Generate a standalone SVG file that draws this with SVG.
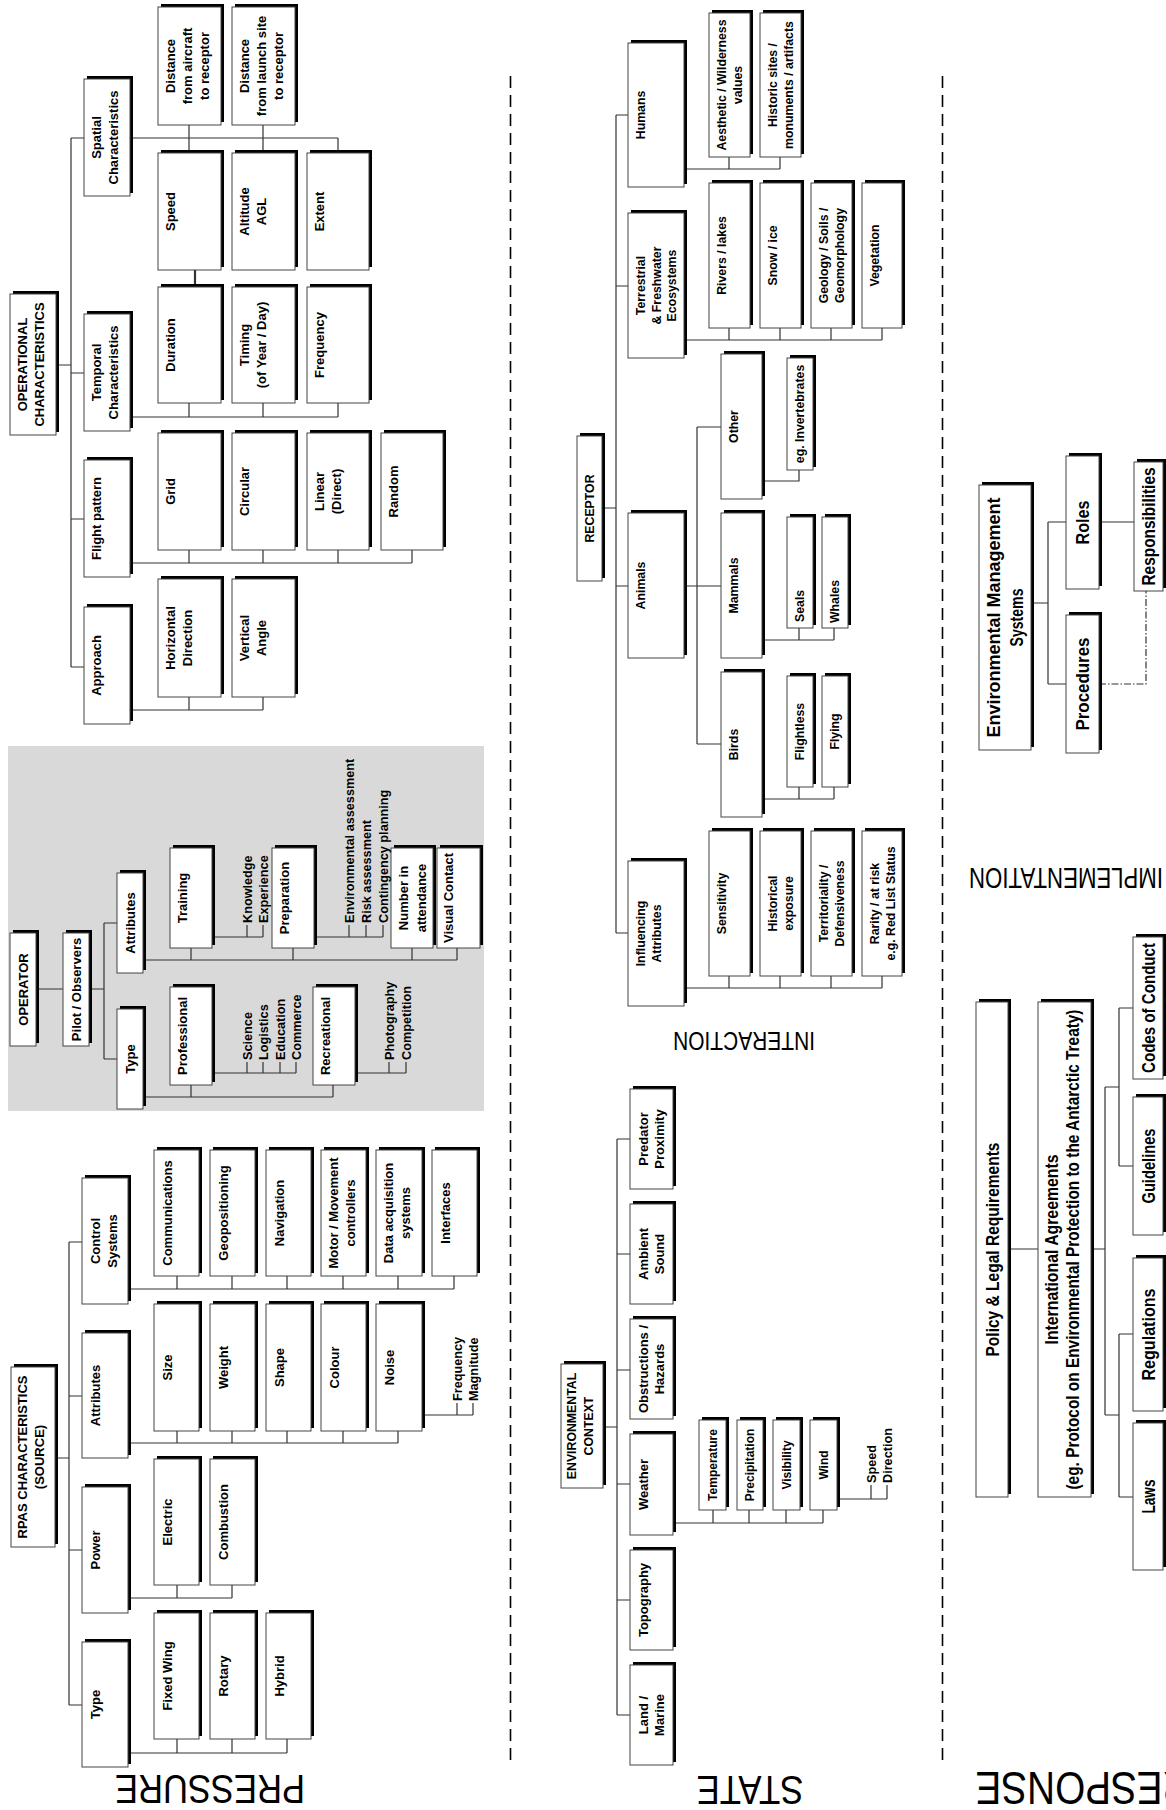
<svg xmlns="http://www.w3.org/2000/svg" width="1166" height="1810" viewBox="0 0 1166 1810">
<style>
.sh{fill:#000}
.bx{fill:#fff;stroke:#444;stroke-width:1}
.t{font-family:"Liberation Sans",Arial,sans-serif;font-weight:bold;font-size:13px;fill:#000;text-anchor:middle}
.s{font-size:12.3px}
.xs{font-size:12px}
.lf{font-family:"Liberation Sans",Arial,sans-serif;font-weight:bold;font-size:12.7px;fill:#000;text-anchor:start}
.n{font-family:"Liberation Sans Narrow","Liberation Sans",Arial,sans-serif;font-weight:bold;font-size:18.5px;fill:#000;text-anchor:middle}
.lbl{font-family:"Liberation Sans",Arial,sans-serif;fill:#000;text-anchor:middle}
.c{fill:none;stroke:#333;stroke-width:1.2}
.dv{fill:none;stroke:#000;stroke-width:1.6;stroke-dasharray:12 7}
</style>
<rect x="0" y="0" width="1166" height="1810" fill="#fff"/>
<rect id="operator-panel" x="8" y="746" width="476" height="365" fill="#d9d9d9"/>
<g id="dividers">
<path class="dv" d="M510.5 76V1766M942.5 76V1766"/>
</g>
<g id="connectors">
<path class="c" d="M56 365H71M71 138V667M71 138H84M71 373H84M71 519H84M71 667H84M130 138H338M189 125V153M263 125V153M338 138V153M130 417H338M189 403V417M263 403V417M338 403V417M130 563H412M189 550V563M263 550V563M338 550V563M412 550V563M130 710H263M189 697V710M263 697V710"/>
<path class="c" style="stroke-width:2.2" d="M195 270V287"/>
<path class="c" d="M36 989H63M89 989H104M104 923V1059M104 923H117M104 1059H117M143 960H457M191 948V960M293 948V960M412 948V960M457 948V960M212 937H263M247 925V937M263 925V937M314 937H383M349 925V937M366 925V937M383 925V937M143 1097H333M191 1085V1097M333 1085V1097M212 1073H296M247 1062V1073M263 1062V1073M280 1062V1073M296 1062V1073M355 1073H406M389 1062V1073M406 1062V1073"/>
<path class="c" d="M55 1458H69M69 1242V1705M69 1242H82M69 1396H82M69 1550H82M69 1705H82M128 1289H454M177 1276V1289M232 1276V1289M287 1276V1289M343 1276V1289M398 1276V1289M454 1276V1289M128 1443H398M177 1431V1443M232 1431V1443M287 1431V1443M343 1431V1443M398 1431V1443M422 1415H473M457 1403V1415M473 1403V1415M128 1598H232M177 1585V1598M232 1585V1598M128 1753H287M177 1739V1753M232 1739V1753M287 1739V1753"/>
<path class="c" d="M602 508H616M616 115V933M616 115H628M616 286H628M616 586H628M616 933H628M684 169H780M729 157V169M780 157V169M684 340H882M729 328V340M780 328V340M831 328V340M882 328V340M684 586H721M697 427V744M697 427H721M697 744H721M762 481H799V470M762 640H834M799 628V640M834 628V640M762 799H834M799 787V799M834 787V799M684 988H882M729 976V988M780 976V988M831 976V988M882 976V988"/>
<path class="c" d="M603 1427H617M617 1139V1715M617 1139H630M617 1254H630M617 1370H630M617 1484H630M617 1600H630M617 1715H630M673 1523H823M713 1510V1523M749 1510V1523M786 1510V1523M823 1510V1523M837 1499H887M871 1485V1499M887 1485V1499"/>
<path class="c" d="M1031 603H1048M1048 522V684M1048 522H1066M1048 684H1066M1099 522H1134"/>
<path class="c" style="stroke-dasharray:7 2 1.5 2" d="M1099 684H1146V591"/>
<path class="c" d="M1008 1249H1038M1091 1249H1105M1105 1087V1415M1105 1087H1119M1105 1415H1119M1119 1008V1166M1119 1008H1133M1119 1166H1133M1119 1334V1497M1119 1334H1133M1119 1497H1133"/>
</g>

<!-- OPERATIONAL CHARACTERISTICS -->
<g id="op-char"><rect class="sh" x="13" y="291" width="46" height="141"/><rect class="bx" x="10" y="294" width="46" height="141"/><text class="t" transform="translate(27,364.5) rotate(-90)"><tspan x="0" y="0">OPERATIONAL</tspan><tspan x="0" y="17">CHARACTERISTICS</tspan></text></g>
<g id="spatial"><rect class="sh" x="87" y="76" width="46" height="117"/><rect class="bx" x="84" y="79" width="46" height="117"/><text class="t" transform="translate(101,137.5) rotate(-90)"><tspan x="0" y="0">Spatial</tspan><tspan x="0" y="17">Characteristics</tspan></text></g>
<g id="temporal"><rect class="sh" x="87" y="311" width="46" height="117"/><rect class="bx" x="84" y="314" width="46" height="117"/><text class="t" transform="translate(101,372.5) rotate(-90)"><tspan x="0" y="0">Temporal</tspan><tspan x="0" y="17">Characteristics</tspan></text></g>
<g id="flight"><rect class="sh" x="87" y="457" width="46" height="117"/><rect class="bx" x="84" y="460" width="46" height="117"/><text class="t" transform="translate(101,518.5) rotate(-90)"><tspan x="0" y="0">Flight pattern</tspan></text></g>
<g id="approach"><rect class="sh" x="87" y="604" width="46" height="117"/><rect class="bx" x="84" y="607" width="46" height="117"/><text class="t" transform="translate(101,665.5) rotate(-90)"><tspan x="0" y="0">Approach</tspan></text></g>
<g id="dist-aircraft"><rect class="sh" x="161" y="4" width="63" height="118"/><rect class="bx" x="158" y="7" width="63" height="118"/><text class="t" transform="translate(175,66) rotate(-90)"><tspan x="0" y="0">Distance</tspan><tspan x="0" y="17">from aircraft</tspan><tspan x="0" y="34">to receptor</tspan></text></g>
<g id="dist-launch"><rect class="sh" x="235" y="4" width="63" height="118"/><rect class="bx" x="232" y="7" width="63" height="118"/><text class="t" transform="translate(249,66) rotate(-90)"><tspan x="0" y="0">Distance</tspan><tspan x="0" y="17">from launch site</tspan><tspan x="0" y="34">to receptor</tspan></text></g>
<g id="speed"><rect class="sh" x="161" y="150" width="63" height="117"/><rect class="bx" x="158" y="153" width="63" height="117"/><text class="t" transform="translate(175,211.5) rotate(-90)"><tspan x="0" y="0">Speed</tspan></text></g>
<g id="altitude"><rect class="sh" x="235" y="150" width="63" height="117"/><rect class="bx" x="232" y="153" width="63" height="117"/><text class="t" transform="translate(249,211.5) rotate(-90)"><tspan x="0" y="0">Altitude</tspan><tspan x="0" y="17">AGL</tspan></text></g>
<g id="extent"><rect class="sh" x="310" y="150" width="62" height="117"/><rect class="bx" x="307" y="153" width="62" height="117"/><text class="t" transform="translate(324,211.5) rotate(-90)"><tspan x="0" y="0">Extent</tspan></text></g>
<g id="duration"><rect class="sh" x="161" y="284" width="63" height="116"/><rect class="bx" x="158" y="287" width="63" height="116"/><text class="t" transform="translate(175,345) rotate(-90)"><tspan x="0" y="0">Duration</tspan></text></g>
<g id="timing"><rect class="sh" x="235" y="284" width="63" height="116"/><rect class="bx" x="232" y="287" width="63" height="116"/><text class="t" transform="translate(249,345) rotate(-90)"><tspan x="0" y="0">Timing</tspan><tspan x="0" y="17">(of Year / Day)</tspan></text></g>
<g id="frequency"><rect class="sh" x="310" y="284" width="62" height="116"/><rect class="bx" x="307" y="287" width="62" height="116"/><text class="t" transform="translate(324,345) rotate(-90)"><tspan x="0" y="0">Frequency</tspan></text></g>
<g id="grid"><rect class="sh" x="161" y="430" width="63" height="117"/><rect class="bx" x="158" y="433" width="63" height="117"/><text class="t" transform="translate(175,491.5) rotate(-90)"><tspan x="0" y="0">Grid</tspan></text></g>
<g id="circular"><rect class="sh" x="235" y="430" width="63" height="117"/><rect class="bx" x="232" y="433" width="63" height="117"/><text class="t" transform="translate(249,491.5) rotate(-90)"><tspan x="0" y="0">Circular</tspan></text></g>
<g id="linear"><rect class="sh" x="310" y="430" width="62" height="117"/><rect class="bx" x="307" y="433" width="62" height="117"/><text class="t" transform="translate(324,491.5) rotate(-90)"><tspan x="0" y="0">Linear</tspan><tspan x="0" y="17">(Direct)</tspan></text></g>
<g id="random"><rect class="sh" x="384" y="430" width="62" height="117"/><rect class="bx" x="381" y="433" width="62" height="117"/><text class="t" transform="translate(398,491.5) rotate(-90)"><tspan x="0" y="0">Random</tspan></text></g>
<g id="horizontal"><rect class="sh" x="161" y="576" width="63" height="118"/><rect class="bx" x="158" y="579" width="63" height="118"/><text class="t" transform="translate(175,638) rotate(-90)"><tspan x="0" y="0">Horizontal</tspan><tspan x="0" y="17">Direction</tspan></text></g>
<g id="vertical"><rect class="sh" x="235" y="576" width="63" height="118"/><rect class="bx" x="232" y="579" width="63" height="118"/><text class="t" transform="translate(249,638) rotate(-90)"><tspan x="0" y="0">Vertical</tspan><tspan x="0" y="17">Angle</tspan></text></g>

<!-- OPERATOR -->
<g id="operator"><rect class="sh" x="13" y="930" width="26" height="113"/><rect class="bx" x="10" y="933" width="26" height="113"/><text class="t" transform="translate(27.5,989.5) rotate(-90)"><tspan x="0" y="0">OPERATOR</tspan></text></g>
<g id="pilot"><rect class="sh" x="66" y="930" width="26" height="113"/><rect class="bx" x="63" y="933" width="26" height="113"/><text class="t" transform="translate(80.5,989.5) rotate(-90)"><tspan x="0" y="0">Pilot / Observers</tspan></text></g>
<g id="op-attributes"><rect class="sh" x="120" y="870" width="26" height="100"/><rect class="bx" x="117" y="873" width="26" height="100"/><text class="t" transform="translate(134.5,923) rotate(-90)"><tspan x="0" y="0">Attributes</tspan></text></g>
<g id="op-type"><rect class="sh" x="120" y="1006" width="26" height="100"/><rect class="bx" x="117" y="1009" width="26" height="100"/><text class="t" transform="translate(134.5,1059) rotate(-90)"><tspan x="0" y="0">Type</tspan></text></g>
<g id="training"><rect class="sh" x="173" y="845" width="42" height="100"/><rect class="bx" x="170" y="848" width="42" height="100"/><text class="t" transform="translate(187,898) rotate(-90)"><tspan x="0" y="0">Training</tspan></text></g>
<g id="preparation"><rect class="sh" x="275" y="845" width="42" height="100"/><rect class="bx" x="272" y="848" width="42" height="100"/><text class="t" transform="translate(289,898) rotate(-90)"><tspan x="0" y="0">Preparation</tspan></text></g>
<g id="number"><rect class="sh" x="394" y="845" width="42" height="100"/><rect class="bx" x="391" y="848" width="42" height="100"/><text class="t" transform="translate(408,898) rotate(-90)"><tspan x="0" y="0">Number in</tspan><tspan x="0" y="17.5">attendance</tspan></text></g>
<g id="visual"><rect class="sh" x="440" y="845" width="43" height="100"/><rect class="bx" x="437" y="848" width="43" height="100"/><text class="t" transform="translate(453,898) rotate(-90)"><tspan x="0" y="0">Visual Contact</tspan></text></g>
<g id="professional"><rect class="sh" x="173" y="984" width="42" height="98"/><rect class="bx" x="170" y="987" width="42" height="98"/><text class="t" transform="translate(187,1036) rotate(-90)"><tspan x="0" y="0">Professional</tspan></text></g>
<g id="recreational"><rect class="sh" x="316" y="984" width="42" height="98"/><rect class="bx" x="313" y="987" width="42" height="98"/><text class="t" transform="translate(330,1036) rotate(-90)"><tspan x="0" y="0">Recreational</tspan></text></g>
<g id="operator-leaves">
<text class="lf" transform="translate(251.5,923) rotate(-90)">Knowledge</text>
<text class="lf" transform="translate(267.5,923) rotate(-90)">Experience</text>
<text class="lf" transform="translate(353.5,923) rotate(-90)">Environmental assessment</text>
<text class="lf" transform="translate(370.5,923) rotate(-90)">Risk assessment</text>
<text class="lf" transform="translate(387.5,923) rotate(-90)">Contingency planning</text>
<text class="lf" transform="translate(251.5,1060) rotate(-90)">Science</text>
<text class="lf" transform="translate(267.5,1060) rotate(-90)">Logistics</text>
<text class="lf" transform="translate(284.5,1060) rotate(-90)">Education</text>
<text class="lf" transform="translate(300.5,1060) rotate(-90)">Commerce</text>
<text class="lf" transform="translate(393.5,1060) rotate(-90)">Photography</text>
<text class="lf" transform="translate(410.5,1060) rotate(-90)">Competition</text>
</g>

<!-- RPAS -->
<g id="rpas"><rect class="sh" x="14" y="1364" width="44" height="180"/><rect class="bx" x="11" y="1367" width="44" height="180"/><text class="t" transform="translate(27,1457) rotate(-90)"><tspan x="0" y="0">RPAS CHARACTERISTICS</tspan><tspan x="0" y="16.5">(SOURCE)</tspan></text></g>
<g id="control"><rect class="sh" x="85" y="1175" width="46" height="126"/><rect class="bx" x="82" y="1178" width="46" height="126"/><text class="t" transform="translate(100,1241) rotate(-90)"><tspan x="0" y="0">Control</tspan><tspan x="0" y="17">Systems</tspan></text></g>
<g id="rp-attributes"><rect class="sh" x="85" y="1330" width="46" height="125"/><rect class="bx" x="82" y="1333" width="46" height="125"/><text class="t" transform="translate(100,1395.5) rotate(-90)"><tspan x="0" y="0">Attributes</tspan></text></g>
<g id="power"><rect class="sh" x="85" y="1484" width="46" height="126"/><rect class="bx" x="82" y="1487" width="46" height="126"/><text class="t" transform="translate(100,1550) rotate(-90)"><tspan x="0" y="0">Power</tspan></text></g>
<g id="rp-type"><rect class="sh" x="85" y="1639" width="46" height="125"/><rect class="bx" x="82" y="1642" width="46" height="125"/><text class="t" transform="translate(100,1704.5) rotate(-90)"><tspan x="0" y="0">Type</tspan></text></g>
<g id="communications"><rect class="sh" x="157" y="1147" width="45" height="126"/><rect class="bx" x="154" y="1150" width="45" height="126"/><text class="t" transform="translate(171.5,1213) rotate(-90)"><tspan x="0" y="0">Communications</tspan></text></g>
<g id="geopositioning"><rect class="sh" x="213" y="1147" width="45" height="126"/><rect class="bx" x="210" y="1150" width="45" height="126"/><text class="t" transform="translate(227.5,1213) rotate(-90)"><tspan x="0" y="0">Geopositioning</tspan></text></g>
<g id="navigation"><rect class="sh" x="269" y="1147" width="45" height="126"/><rect class="bx" x="266" y="1150" width="45" height="126"/><text class="t" transform="translate(283.5,1213) rotate(-90)"><tspan x="0" y="0">Navigation</tspan></text></g>
<g id="motor"><rect class="sh" x="324" y="1147" width="45" height="126"/><rect class="bx" x="321" y="1150" width="45" height="126"/><text class="t" transform="translate(338,1213) rotate(-90)"><tspan x="0" y="0">Motor / Movement</tspan><tspan x="0" y="17">controllers</tspan></text></g>
<g id="data"><rect class="sh" x="379" y="1147" width="46" height="126"/><rect class="bx" x="376" y="1150" width="46" height="126"/><text class="t" transform="translate(393,1213) rotate(-90)"><tspan x="0" y="0">Data acquisition</tspan><tspan x="0" y="17">systems</tspan></text></g>
<g id="interfaces"><rect class="sh" x="435" y="1147" width="45" height="126"/><rect class="bx" x="432" y="1150" width="45" height="126"/><text class="t" transform="translate(449.5,1213) rotate(-90)"><tspan x="0" y="0">Interfaces</tspan></text></g>
<g id="size"><rect class="sh" x="157" y="1301" width="45" height="127"/><rect class="bx" x="154" y="1304" width="45" height="127"/><text class="t" transform="translate(171.5,1367.5) rotate(-90)"><tspan x="0" y="0">Size</tspan></text></g>
<g id="weight"><rect class="sh" x="213" y="1301" width="45" height="127"/><rect class="bx" x="210" y="1304" width="45" height="127"/><text class="t" transform="translate(227.5,1367.5) rotate(-90)"><tspan x="0" y="0">Weight</tspan></text></g>
<g id="shape"><rect class="sh" x="269" y="1301" width="45" height="127"/><rect class="bx" x="266" y="1304" width="45" height="127"/><text class="t" transform="translate(283.5,1367.5) rotate(-90)"><tspan x="0" y="0">Shape</tspan></text></g>
<g id="colour"><rect class="sh" x="324" y="1301" width="45" height="127"/><rect class="bx" x="321" y="1304" width="45" height="127"/><text class="t" transform="translate(338.5,1367.5) rotate(-90)"><tspan x="0" y="0">Colour</tspan></text></g>
<g id="noise"><rect class="sh" x="379" y="1301" width="46" height="127"/><rect class="bx" x="376" y="1304" width="46" height="127"/><text class="t" transform="translate(393.5,1367.5) rotate(-90)"><tspan x="0" y="0">Noise</tspan></text></g>
<g id="noise-leaves">
<text class="lf" transform="translate(461.5,1401) rotate(-90)">Frequency</text>
<text class="lf" transform="translate(477.5,1401) rotate(-90)">Magnitude</text>
</g>
<g id="electric"><rect class="sh" x="157" y="1456" width="45" height="126"/><rect class="bx" x="154" y="1459" width="45" height="126"/><text class="t" transform="translate(171.5,1522) rotate(-90)"><tspan x="0" y="0">Electric</tspan></text></g>
<g id="combustion"><rect class="sh" x="213" y="1456" width="45" height="126"/><rect class="bx" x="210" y="1459" width="45" height="126"/><text class="t" transform="translate(227.5,1522) rotate(-90)"><tspan x="0" y="0">Combustion</tspan></text></g>
<g id="fixed-wing"><rect class="sh" x="157" y="1610" width="45" height="126"/><rect class="bx" x="154" y="1613" width="45" height="126"/><text class="t" transform="translate(171.5,1676) rotate(-90)"><tspan x="0" y="0">Fixed Wing</tspan></text></g>
<g id="rotary"><rect class="sh" x="213" y="1610" width="45" height="126"/><rect class="bx" x="210" y="1613" width="45" height="126"/><text class="t" transform="translate(227.5,1676) rotate(-90)"><tspan x="0" y="0">Rotary</tspan></text></g>
<g id="hybrid"><rect class="sh" x="269" y="1610" width="45" height="126"/><rect class="bx" x="266" y="1613" width="45" height="126"/><text class="t" transform="translate(283.5,1676) rotate(-90)"><tspan x="0" y="0">Hybrid</tspan></text></g>

<!-- RECEPTOR -->
<g id="receptor"><rect class="sh" x="580" y="433" width="25" height="145"/><rect class="bx" x="577" y="436" width="25" height="145"/><text class="t s" transform="translate(594,508.5) rotate(-90)"><tspan x="0" y="0">RECEPTOR</tspan></text></g>
<g id="humans"><rect class="sh" x="631" y="40" width="56" height="144"/><rect class="bx" x="628" y="43" width="56" height="144"/><text class="t s" transform="translate(645,115) rotate(-90)"><tspan x="0" y="0">Humans</tspan></text></g>
<g id="terrestrial"><rect class="sh" x="631" y="210" width="56" height="145"/><rect class="bx" x="628" y="213" width="56" height="145"/><text class="t s" transform="translate(645,285.5) rotate(-90)"><tspan x="0" y="0">Terrestrial</tspan><tspan x="0" y="15.5">&amp; Freshwater</tspan><tspan x="0" y="31">Ecosystems</tspan></text></g>
<g id="animals"><rect class="sh" x="631" y="510" width="56" height="145"/><rect class="bx" x="628" y="513" width="56" height="145"/><text class="t s" transform="translate(645,585.5) rotate(-90)"><tspan x="0" y="0">Animals</tspan></text></g>
<g id="influencing"><rect class="sh" x="631" y="858" width="56" height="145"/><rect class="bx" x="628" y="861" width="56" height="145"/><text class="t s" transform="translate(645,933.5) rotate(-90)"><tspan x="0" y="0">Influencing</tspan><tspan x="0" y="15.5">Attributes</tspan></text></g>
<g id="aesthetic"><rect class="sh" x="712" y="10" width="41" height="144"/><rect class="bx" x="709" y="13" width="41" height="144"/><text class="t s" transform="translate(726,85) rotate(-90)"><tspan x="0" y="0">Aesthetic / Wilderness</tspan><tspan x="0" y="15.5">values</tspan></text></g>
<g id="historic"><rect class="sh" x="763" y="10" width="41" height="144"/><rect class="bx" x="760" y="13" width="41" height="144"/><text class="t s" transform="translate(777,85) rotate(-90)"><tspan x="0" y="0">Historic sites /</tspan><tspan x="0" y="15.5">monuments / artifacts</tspan></text></g>
<g id="rivers"><rect class="sh" x="712" y="180" width="41" height="145"/><rect class="bx" x="709" y="183" width="41" height="145"/><text class="t s" transform="translate(726,255.5) rotate(-90)"><tspan x="0" y="0">Rivers / lakes</tspan></text></g>
<g id="snow"><rect class="sh" x="763" y="180" width="41" height="145"/><rect class="bx" x="760" y="183" width="41" height="145"/><text class="t s" transform="translate(777,255.5) rotate(-90)"><tspan x="0" y="0">Snow / ice</tspan></text></g>
<g id="geology"><rect class="sh" x="814" y="180" width="41" height="145"/><rect class="bx" x="811" y="183" width="41" height="145"/><text class="t s" transform="translate(828,255.5) rotate(-90)"><tspan x="0" y="0">Geology / Soils /</tspan><tspan x="0" y="15.5">Geomorphology</tspan></text></g>
<g id="vegetation"><rect class="sh" x="865" y="180" width="40" height="145"/><rect class="bx" x="862" y="183" width="40" height="145"/><text class="t s" transform="translate(879,255.5) rotate(-90)"><tspan x="0" y="0">Vegetation</tspan></text></g>
<g id="other"><rect class="sh" x="724" y="351" width="41" height="145"/><rect class="bx" x="721" y="354" width="41" height="145"/><text class="t s" transform="translate(738,426.5) rotate(-90)"><tspan x="0" y="0">Other</tspan></text></g>
<g id="invertebrates"><rect class="sh" x="790" y="355" width="26" height="112"/><rect class="bx" x="787" y="358" width="26" height="112"/><text class="t s" transform="translate(804,414) rotate(-90)"><tspan x="0" y="0">eg. Invertebrates</tspan></text></g>
<g id="mammals"><rect class="sh" x="724" y="510" width="41" height="145"/><rect class="bx" x="721" y="513" width="41" height="145"/><text class="t s" transform="translate(738,585.5) rotate(-90)"><tspan x="0" y="0">Mammals</tspan></text></g>
<g id="seals"><rect class="sh" x="790" y="514" width="26" height="111"/><rect class="bx" x="787" y="517" width="26" height="111"/><text class="t s" style="text-anchor:start" transform="translate(804,622) rotate(-90)"><tspan x="0" y="0">Seals</tspan></text></g>
<g id="whales"><rect class="sh" x="825" y="514" width="26" height="111"/><rect class="bx" x="822" y="517" width="26" height="111"/><text class="t s" style="text-anchor:start" transform="translate(839,623) rotate(-90)"><tspan x="0" y="0">Whales</tspan></text></g>
<g id="birds"><rect class="sh" x="724" y="669" width="41" height="145"/><rect class="bx" x="721" y="672" width="41" height="145"/><text class="t s" transform="translate(738,744.5) rotate(-90)"><tspan x="0" y="0">Birds</tspan></text></g>
<g id="flightless"><rect class="sh" x="790" y="673" width="26" height="111"/><rect class="bx" x="787" y="676" width="26" height="111"/><text class="t s" transform="translate(804,731.5) rotate(-90)"><tspan x="0" y="0">Flightless</tspan></text></g>
<g id="flying"><rect class="sh" x="825" y="673" width="26" height="111"/><rect class="bx" x="822" y="676" width="26" height="111"/><text class="t s" transform="translate(839,731.5) rotate(-90)"><tspan x="0" y="0">Flying</tspan></text></g>
<g id="sensitivity"><rect class="sh" x="712" y="828" width="41" height="145"/><rect class="bx" x="709" y="831" width="41" height="145"/><text class="t s" transform="translate(726,903.5) rotate(-90)"><tspan x="0" y="0">Sensitivity</tspan></text></g>
<g id="historical"><rect class="sh" x="763" y="828" width="41" height="145"/><rect class="bx" x="760" y="831" width="41" height="145"/><text class="t s" transform="translate(777,903.5) rotate(-90)"><tspan x="0" y="0">Historical</tspan><tspan x="0" y="15.5">exposure</tspan></text></g>
<g id="territoriality"><rect class="sh" x="814" y="828" width="41" height="145"/><rect class="bx" x="811" y="831" width="41" height="145"/><text class="t s" transform="translate(828,903.5) rotate(-90)"><tspan x="0" y="0">Territoriality /</tspan><tspan x="0" y="15.5">Defensiveness</tspan></text></g>
<g id="rarity"><rect class="sh" x="865" y="828" width="40" height="145"/><rect class="bx" x="862" y="831" width="40" height="145"/><text class="t s" transform="translate(879,903.5) rotate(-90)"><tspan x="0" y="0">Rarity / at risk</tspan><tspan x="0" y="15.5">e.g. Red List Status</tspan></text></g>

<!-- ENVIRONMENTAL CONTEXT -->
<g id="env-context"><rect class="sh" x="564" y="1361" width="42" height="124"/><rect class="bx" x="561" y="1364" width="42" height="124"/><text class="t s" transform="translate(576,1426) rotate(-90)"><tspan x="0" y="0">ENVIRONMENTAL</tspan><tspan x="0" y="17">CONTEXT</tspan></text></g>
<g id="predator"><rect class="sh" x="633" y="1086" width="43" height="100"/><rect class="bx" x="630" y="1089" width="43" height="100"/><text class="t" transform="translate(648,1139) rotate(-90)"><tspan x="0" y="0">Predator</tspan><tspan x="0" y="16">Proximity</tspan></text></g>
<g id="ambient"><rect class="sh" x="633" y="1201" width="43" height="100"/><rect class="bx" x="630" y="1204" width="43" height="100"/><text class="t" transform="translate(648,1254) rotate(-90)"><tspan x="0" y="0">Ambient</tspan><tspan x="0" y="16">Sound</tspan></text></g>
<g id="obstructions"><rect class="sh" x="633" y="1316" width="43" height="100"/><rect class="bx" x="630" y="1319" width="43" height="100"/><text class="t" transform="translate(648,1369) rotate(-90)"><tspan x="0" y="0">Obstructions /</tspan><tspan x="0" y="16">Hazards</tspan></text></g>
<g id="weather"><rect class="sh" x="633" y="1431" width="43" height="101"/><rect class="bx" x="630" y="1434" width="43" height="101"/><text class="t" transform="translate(648,1484.5) rotate(-90)"><tspan x="0" y="0">Weather</tspan></text></g>
<g id="topography"><rect class="sh" x="633" y="1547" width="43" height="100"/><rect class="bx" x="630" y="1550" width="43" height="100"/><text class="t" transform="translate(648,1600) rotate(-90)"><tspan x="0" y="0">Topography</tspan></text></g>
<g id="land-marine"><rect class="sh" x="633" y="1662" width="43" height="100"/><rect class="bx" x="630" y="1665" width="43" height="100"/><text class="t" transform="translate(648,1715) rotate(-90)"><tspan x="0" y="0">Land /</tspan><tspan x="0" y="16">Marine</tspan></text></g>
<g id="temperature"><rect class="sh" x="702" y="1417" width="27" height="90"/><rect class="bx" x="699" y="1420" width="27" height="90"/><text class="t xs" transform="translate(716.5,1465) rotate(-90)"><tspan x="0" y="0">Temperature</tspan></text></g>
<g id="precipitation"><rect class="sh" x="740" y="1417" width="26" height="90"/><rect class="bx" x="737" y="1420" width="26" height="90"/><text class="t xs" transform="translate(754,1465) rotate(-90)"><tspan x="0" y="0">Precipitation</tspan></text></g>
<g id="visibility"><rect class="sh" x="776" y="1417" width="27" height="90"/><rect class="bx" x="773" y="1420" width="27" height="90"/><text class="t xs" transform="translate(791,1465) rotate(-90)"><tspan x="0" y="0">Visibility</tspan></text></g>
<g id="wind"><rect class="sh" x="813" y="1417" width="27" height="90"/><rect class="bx" x="810" y="1420" width="27" height="90"/><text class="t xs" transform="translate(828,1465) rotate(-90)"><tspan x="0" y="0">Wind</tspan></text></g>
<g id="wind-leaves">
<text class="lf" transform="translate(875.5,1483) rotate(-90)">Speed</text>
<text class="lf" transform="translate(891.5,1483) rotate(-90)">Direction</text>
</g>

<!-- IMPLEMENTATION -->
<g id="ems"><rect class="sh" x="982" y="482" width="52" height="265"/><rect class="bx" x="979" y="485" width="52" height="265"/><text class="n" transform="translate(999.5,617.5) rotate(-90)" textLength="240" lengthAdjust="spacingAndGlyphs">Environmental Management</text><text class="n" transform="translate(1022.5,617.5) rotate(-90)" textLength="58" lengthAdjust="spacingAndGlyphs">Systems</text></g>
<g id="roles"><rect class="sh" x="1069" y="453" width="33" height="133"/><rect class="bx" x="1066" y="456" width="33" height="133"/><text class="n" transform="translate(1089,522.5) rotate(-90)" textLength="44" lengthAdjust="spacingAndGlyphs">Roles</text></g>
<g id="procedures"><rect class="sh" x="1069" y="612" width="33" height="138"/><rect class="bx" x="1066" y="615" width="33" height="138"/><text class="n" transform="translate(1089,684) rotate(-90)" textLength="93" lengthAdjust="spacingAndGlyphs">Procedures</text></g>
<g id="responsibilities"><rect class="sh" x="1137" y="459" width="29" height="129"/><rect class="bx" x="1134" y="462" width="29" height="129"/><text class="n" transform="translate(1155,526.5) rotate(-90)" textLength="118" lengthAdjust="spacingAndGlyphs">Responsibilities</text></g>

<!-- RESPONSE -->
<g id="policy"><rect class="sh" x="979" y="999" width="32" height="495"/><rect class="bx" x="976" y="1002" width="32" height="495"/><text class="n" transform="translate(998.5,1249.5) rotate(-90)" textLength="214" lengthAdjust="spacingAndGlyphs">Policy &amp; Legal Requirements</text></g>
<g id="international"><rect class="sh" x="1041" y="999" width="53" height="495"/><rect class="bx" x="1038" y="1002" width="53" height="495"/><text class="n" transform="translate(1057.5,1249.5) rotate(-90)" textLength="190" lengthAdjust="spacingAndGlyphs">International Agreements</text><text class="n" transform="translate(1078.5,1249.5) rotate(-90)" textLength="480" lengthAdjust="spacingAndGlyphs">(eg. Protocol on Environmental Protection to the Antarctic Treaty)</text></g>
<g id="codes"><rect class="sh" x="1136" y="934" width="30" height="142"/><rect class="bx" x="1133" y="937" width="30" height="142"/><text class="n" transform="translate(1154.5,1008) rotate(-90)" textLength="130" lengthAdjust="spacingAndGlyphs">Codes of Conduct</text></g>
<g id="guidelines"><rect class="sh" x="1136" y="1094" width="30" height="138"/><rect class="bx" x="1133" y="1097" width="30" height="138"/><text class="n" transform="translate(1154.5,1166) rotate(-90)" textLength="75" lengthAdjust="spacingAndGlyphs">Guidelines</text></g>
<g id="regulations"><rect class="sh" x="1136" y="1255" width="30" height="153"/><rect class="bx" x="1133" y="1258" width="30" height="153"/><text class="n" transform="translate(1154.5,1334.5) rotate(-90)" textLength="92" lengthAdjust="spacingAndGlyphs">Regulations</text></g>
<g id="laws"><rect class="sh" x="1136" y="1420" width="30" height="147"/><rect class="bx" x="1133" y="1423" width="30" height="147"/><text class="n" transform="translate(1154.5,1496.5) rotate(-90)" textLength="34" lengthAdjust="spacingAndGlyphs">Laws</text></g>

<!-- region labels (upside down) -->
<g id="labels">
<text class="lbl" font-size="41" transform="translate(210,1775) rotate(180)" textLength="190" lengthAdjust="spacingAndGlyphs">PRESSURE</text>
<text class="lbl" font-size="40" transform="translate(750,1776) rotate(180)" textLength="107" lengthAdjust="spacingAndGlyphs">STATE</text>
<text class="lbl" font-size="46" transform="translate(1083,1772) rotate(180)" textLength="215" lengthAdjust="spacingAndGlyphs">RESPONSE</text>
<text class="lbl" font-size="25" transform="translate(744,1032) rotate(180)" textLength="142" lengthAdjust="spacingAndGlyphs">INTERACTION</text>
<text class="lbl" font-size="29" transform="translate(1066,868) rotate(180)" textLength="194" lengthAdjust="spacingAndGlyphs">IMPLEMENTATION</text>
</g>
</svg>
